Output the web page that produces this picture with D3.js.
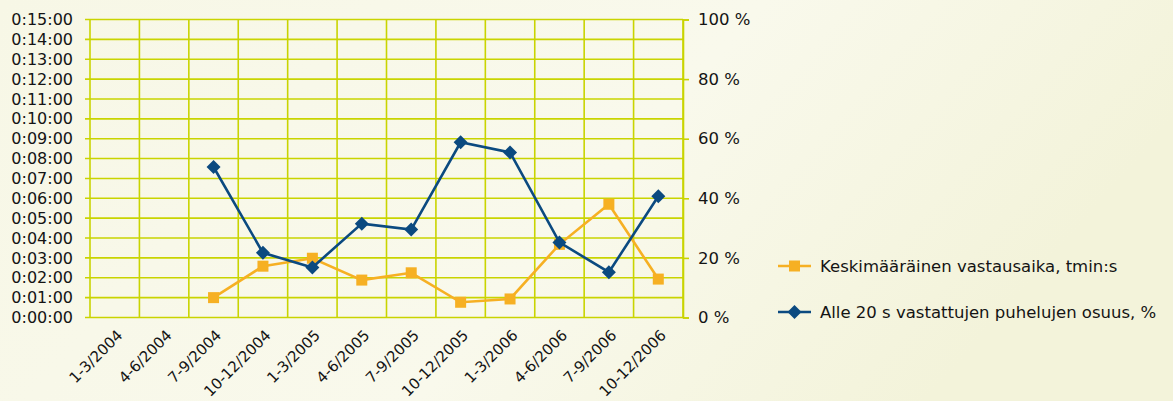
<!DOCTYPE html>
<html>
<head>
<meta charset="utf-8">
<style>
  body { margin: 0; }
  svg text { font-family: "DejaVu Sans", sans-serif; fill: #141414; }
  .grid line { stroke: #c9d400; stroke-width: 1.6px; }
</style>
</head>
<body>
<script src="https://d3js.org/d3.v7.min.js"></script>
<script>
// quarters on the x axis
var categories = ["1-3/2004", "4-6/2004", "7-9/2004", "10-12/2004", "1-3/2005", "4-6/2005",
                  "7-9/2005", "10-12/2005", "1-3/2006", "4-6/2006", "7-9/2006", "10-12/2006"];
// average answer time, seconds (left axis)
var avgSeconds = [null, null, 60, 155, 179, 113, 135, 46, 56, 221, 342, 116];
// share answered under 20 s, % (right axis)
var shareUnder20 = [null, null, 50.5, 21.7, 16.8, 31.5, 29.5, 58.8, 55.4, 25.2, 15.2, 40.7];
var leftTicks = d3.range(0, 901, 60);
var rightTicks = [0, 20, 40, 60, 80, 100];
var seriesNames = ["Keskimääräinen vastausaika, tmin:s", "Alle 20 s vastattujen puhelujen osuus, %"];

var W = 1173, H = 401;
var m = { top: 19.5, left: 90, right: 490, bottom: 83.5 };
var w = W - m.left - m.right, h = H - m.top - m.bottom;
var orange = "#f6b023", blue = "#0b4a80", gridCol = "#c9d400";

var svg = d3.select("body").append("svg").attr("width", W).attr("height", H);

var grad = svg.append("defs").append("linearGradient").attr("id", "bg")
    .attr("x1", "0").attr("y1", "0").attr("x2", "1").attr("y2", "0.3");
grad.append("stop").attr("offset", "0").attr("stop-color", "#f7f7e6");
grad.append("stop").attr("offset", "0.6").attr("stop-color", "#f9f9ec");
grad.append("stop").attr("offset", "1").attr("stop-color", "#f3f3da");
svg.append("rect").attr("width", W).attr("height", H).attr("fill", "url(#bg)");

var g = svg.append("g").attr("transform", "translate(" + m.left + "," + m.top + ")");

var x = d3.scaleBand().domain(categories).range([0, w]).padding(0);
var yL = d3.scaleLinear().domain([0, 900]).range([h, 0]);
var yR = d3.scaleLinear().domain([0, 100]).range([h, 0]);

function fmt(s) {
  var mm = Math.floor(s / 60), ss = s % 60;
  return "0:" + d3.format("02")(mm) + ":" + d3.format("02")(ss);
}

// horizontal grid
g.append("g").attr("class", "grid").selectAll("line").data(leftTicks).join("line")
  .attr("x1", -5).attr("x2", w).attr("y1", d => yL(d)).attr("y2", d => yL(d));
// vertical grid at band edges
var edges = categories.map(c => x(c)).concat([w]);
g.append("g").attr("class", "grid").selectAll("line").data(edges).join("line")
  .attr("x1", d => d).attr("x2", d => d).attr("y1", 0).attr("y2", h);

// left axis
var axL = g.append("g").call(d3.axisLeft(yL).tickValues(leftTicks).tickFormat(fmt).tickSize(0).tickPadding(17));
axL.select(".domain").remove();
axL.selectAll("text").style("font-size", "16px");

// right axis
var axR = g.append("g").attr("transform", "translate(" + w + ",0)")
  .call(d3.axisRight(yR).tickValues(rightTicks).tickFormat(d => d + " %").tickSize(6).tickPadding(9));
axR.select(".domain").attr("stroke", gridCol).attr("stroke-width", 1.6);
axR.selectAll(".tick line").attr("stroke", gridCol).attr("stroke-width", 1.6);
axR.selectAll("text").style("font-size", "16.5px");

// bottom axis, rotated labels
var axB = g.append("g").attr("transform", "translate(0," + h + ")")
  .call(d3.axisBottom(x).tickSize(0).tickPadding(0));
axB.select(".domain").remove();
axB.selectAll("text")
  .style("font-size", "15px")
  .style("text-anchor", "end")
  .attr("dy", "0.35em")
  .attr("transform", "translate(5,15) rotate(-45)");

// lines
var cx = d => x(d) + x.bandwidth() / 2;
var lineL = d3.line().defined(d => d[1] != null).x(d => cx(d[0])).y(d => yL(d[1]));
var lineR = d3.line().defined(d => d[1] != null).x(d => cx(d[0])).y(d => yR(d[1]));
var dataL = categories.map((c, i) => [c, avgSeconds[i]]);
var dataR = categories.map((c, i) => [c, shareUnder20[i]]);

g.append("path").attr("d", lineL(dataL)).attr("fill", "none").attr("stroke", orange).attr("stroke-width", 2.6);
g.selectAll(".sq").data(dataL.filter(d => d[1] != null)).join("rect")
  .attr("x", d => cx(d[0]) - 5.5).attr("y", d => yL(d[1]) - 5.5)
  .attr("width", 11).attr("height", 11).attr("fill", orange);

g.append("path").attr("d", lineR(dataR)).attr("fill", "none").attr("stroke", blue).attr("stroke-width", 2.6);
var diamond = d3.symbol().type(d3.symbolDiamond2).size(125);
g.selectAll(".dm").data(dataR.filter(d => d[1] != null)).join("path")
  .attr("d", diamond)
  .attr("transform", d => "translate(" + cx(d[0]) + "," + yR(d[1]) + ")")
  .attr("fill", blue);

// legend
var leg = svg.append("g").attr("transform", "translate(778,266)");
var items = leg.selectAll("g").data(seriesNames).join("g")
  .attr("transform", (d, i) => "translate(0," + i * 46 + ")");
items.append("line").attr("x1", 0).attr("x2", 33).attr("y1", 0).attr("y2", 0)
  .attr("stroke", (d, i) => i ? blue : orange).attr("stroke-width", 2.6);
items.filter((d, i) => i === 0).append("rect")
  .attr("x", 11).attr("y", -5.5).attr("width", 11).attr("height", 11).attr("fill", orange);
items.filter((d, i) => i === 1).append("path")
  .attr("d", diamond).attr("transform", "translate(16.5,0)").attr("fill", blue);
items.append("text").attr("x", 42).attr("dy", "0.35em").style("font-size", "16.5px").text(d => d);
</script>
</body>
</html>
